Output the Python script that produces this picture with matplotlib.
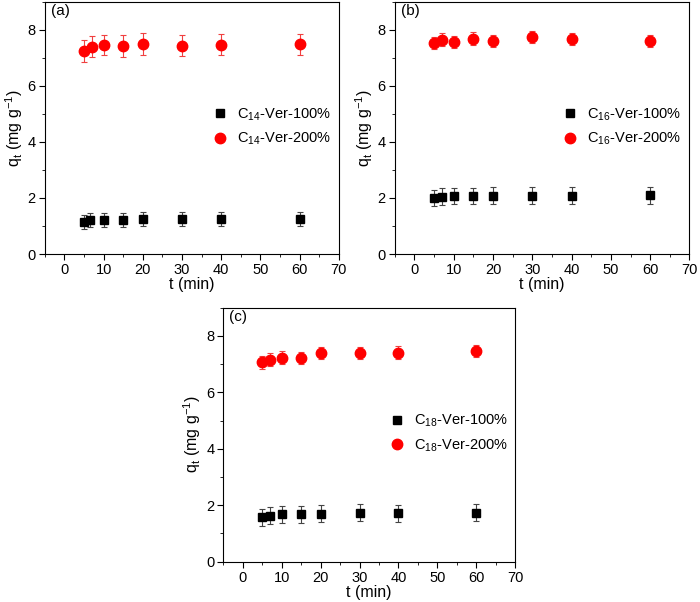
import numpy as np
import matplotlib
matplotlib.use("Agg")
import matplotlib.pyplot as plt
from matplotlib.ticker import MultipleLocator

plt.rcParams['font.family'] = ['Liberation Sans', 'DejaVu Sans']
plt.rcParams['mathtext.fontset'] = 'custom'
plt.rcParams['mathtext.rm'] = 'Liberation Sans'
plt.rcParams['font.size'] = 10

# ============================================================
# DATA
# ============================================================
t_a_100 = [5, 6.5, 10, 15, 20, 30, 40, 60]
t_a_200 = [5, 7, 10, 15, 20, 30, 40, 60]
q_a_100 = [1.14, 1.20, 1.23, 1.20, 1.26, 1.24, 1.24, 1.24]
e_a_100 = [0.24, 0.25, 0.25, 0.25, 0.25, 0.25, 0.25, 0.25]
q_a_200 = [7.25, 7.40, 7.46, 7.42, 7.49, 7.44, 7.47, 7.48]
e_a_200 = [0.38, 0.38, 0.37, 0.38, 0.38, 0.37, 0.37, 0.37]

t_b = [5, 7, 10, 15, 20, 30, 40, 60]
q_b_100 = [2.00, 2.05, 2.07, 2.07, 2.08, 2.08, 2.08, 2.10]
e_b_100 = [0.30, 0.30, 0.30, 0.30, 0.30, 0.30, 0.30, 0.30]
q_b_200 = [7.54, 7.65, 7.56, 7.69, 7.59, 7.74, 7.67, 7.60]
e_b_200 = [0.22, 0.22, 0.22, 0.22, 0.22, 0.22, 0.22, 0.22]

t_c = [5, 7, 10, 15, 20, 30, 40, 60]
q_c_100 = [1.58, 1.63, 1.68, 1.68, 1.70, 1.73, 1.72, 1.73]
e_c_100 = [0.30, 0.30, 0.30, 0.30, 0.30, 0.30, 0.30, 0.30]
q_c_200 = [7.06, 7.16, 7.23, 7.22, 7.40, 7.39, 7.41, 7.47]
e_c_200 = [0.22, 0.22, 0.22, 0.22, 0.22, 0.22, 0.22, 0.22]

panels = [
    ("(a)", "14", t_a_100, q_a_100, e_a_100, t_a_200, q_a_200, e_a_200),
    ("(b)", "16", t_b, q_b_100, e_b_100, t_b, q_b_200, e_b_200),
    ("(c)", "18", t_c, q_c_100, e_c_100, t_c, q_c_200, e_c_200),
]

# axes rectangles [left, bottom, width, height]
rects = [
    [0.064, 0.578, 0.420, 0.419],
    [0.564, 0.578, 0.421, 0.419],
    [0.319, 0.067, 0.417, 0.422],
]

fig = plt.figure(figsize=(7.0, 6.02), dpi=100)

for rect, (tag, n, t1, q1, e1, t2, q2, e2) in zip(rects, panels):
    ax = fig.add_axes(rect)
    h1 = ax.errorbar(t1, q1, yerr=e1, fmt='s', color='black', ms=6,
                     elinewidth=0.8, capsize=2.5, capthick=0.8,
                     ecolor='#444444')
    h2 = ax.errorbar(t2, q2, yerr=e2, fmt='o', color='red', ms=7.5,
                     elinewidth=0.8, capsize=2.5, capthick=0.8,
                     ecolor='#f04040')

    ax.set_xlim(-5, 70)
    ax.set_ylim(0, 9)
    ax.xaxis.set_major_locator(MultipleLocator(10))
    ax.xaxis.set_minor_locator(MultipleLocator(5))
    ax.yaxis.set_major_locator(MultipleLocator(2))
    ax.yaxis.set_minor_locator(MultipleLocator(1))
    ax.tick_params(which='both', direction='out', top=False, right=False,
                   labelsize=10.5, pad=2.5)
    ax.tick_params(which='major', length=4)
    ax.tick_params(which='minor', length=2.5)
    ax.set_xlabel("t (min)", fontsize=11.5, labelpad=0)
    ax.set_ylabel(r"q$_\mathregular{t}$ (mg g$^{\mathregular{-1}}$)",
                  fontsize=11.5, labelpad=2)
    ax.text(0.02, 0.99, tag, transform=ax.transAxes, ha='left', va='top',
            fontsize=11)

    labels = [r'C$_{\mathregular{%s}}$-Ver-100%%' % n,
              r'C$_{\mathregular{%s}}$-Ver-200%%' % n]
    ax.legend([h1[0], h2[0]], labels,
              loc='center left', bbox_to_anchor=(0.52, 0.505),
              frameon=False, fontsize=10.5, handletextpad=0.6,
              labelspacing=0.55, handlelength=1.2)

fig.savefig("out.png", dpi=100)
